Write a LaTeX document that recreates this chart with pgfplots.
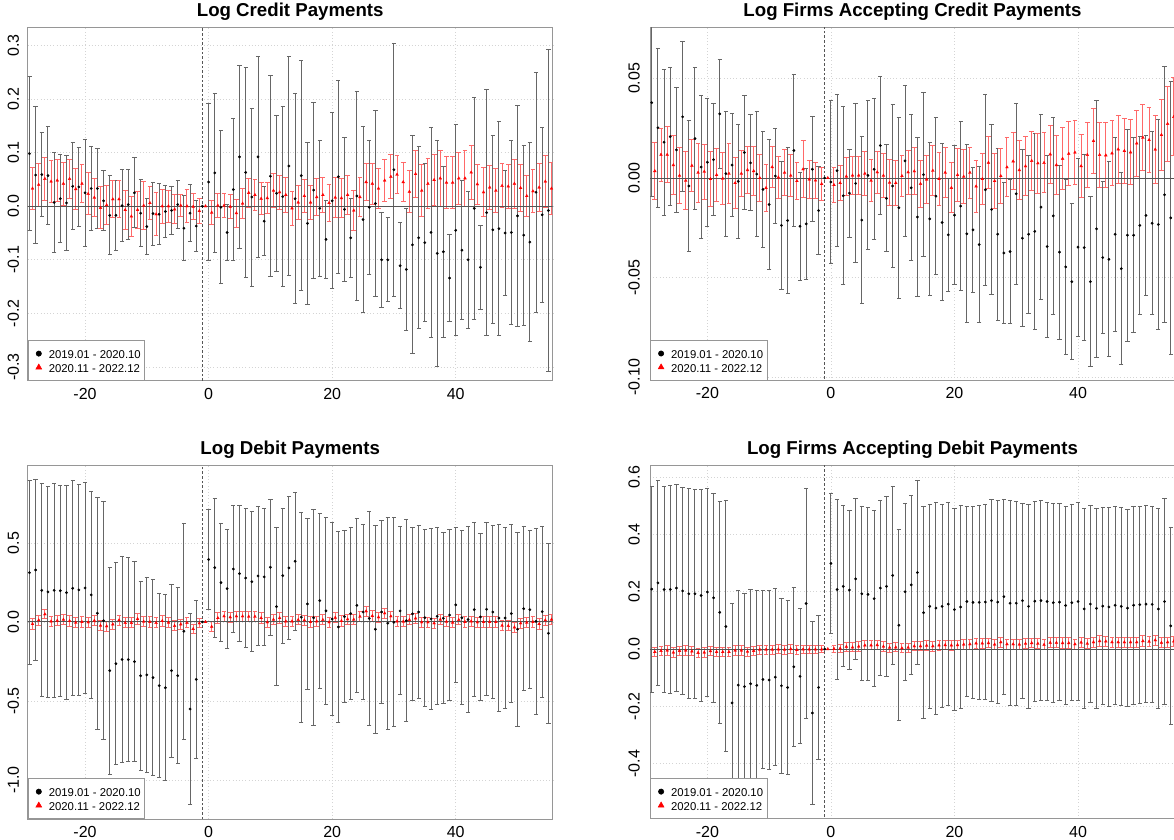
\documentclass[border=0pt]{standalone}
\usepackage{fontspec}
\setmainfont{Liberation Sans}
\usepackage{pgfplots}
\usepackage{pgfplotstable}
\pgfplotsset{compat=1.18}
\definecolor{barblack}{RGB}{102,102,102}
\definecolor{barred}{RGB}{255,105,105}
\definecolor{gridc}{RGB}{212,212,212}
\definecolor{boxc}{RGB}{150,150,150}
\definecolor{linec}{RGB}{85,85,85}
\newcommand\T[1]{\textnormal{#1}}
\newcommand\legblk{\path[draw=none] (0pt,0pt) (12.45pt,0pt); \path[draw=none] plot[mark=*,mark size=2pt,mark options={draw=black,fill=black,line width=0.4pt}] coordinates {(5.95pt,0pt)};}
\newcommand\legred{\path[draw=none] (0pt,0pt) (12.45pt,0pt); \path[draw=none] plot[mark=triangle*,mark size=2.5pt,mark options={draw=red,fill=red,line width=0.4pt}] coordinates {(5.95pt,0pt)};}

% ---------------- Log Credit Payments ----------------
\pgfplotstableread{
x y e
-29 0.098 0.144
-28 0.058 0.128
-27 0.059 0.078
-26 0.057 0.092
-25 0.007 0.094
-24 0.014 0.082
-23 0.006 0.088
-22 0.037 0.081
-21 0.036 0.074
-20 0.025 0.100
-19 0.033 0.079
-18 0.033 0.075
-17 0.010 0.056
-16 -0.017 0.074
-15 -0.017 0.065
-14 0.001 0.067
-13 0.003 0.065
-12 0.025 0.065
-11 -0.013 0.062
-10 -0.038 0.052
-9 -0.014 0.059
-8 -0.015 0.057
-7 -0.010 0.049
-6 -0.008 0.044
-5 0.003 0.045
-4 -0.041 0.061
-3 -0.013 0.053
-2 -0.037 0.048
-1 0 0
0 0.045 0.146
1 0.062 0.149
2 -0.002 0.143
3 -0.049 0.053
4 0.031 0.132
5 0.092 0.170
6 0.063 0.196
7 0.017 0.166
8 0.092 0.187
9 -0.028 0.064
10 0.056 0.188
11 0.024 0.146
12 0.018 0.168
13 0.075 0.205
14 0.014 0.196
15 0.057 0.214
16 -0.032 0.151
17 0.030 0.164
18 -0.004 0.127
19 -0.062 0.073
20 0.010 0.164
21 0.055 0.180
22 -0.006 0.134
23 -0.059 0.074
24 0.019 0.194
25 -0.025 0.173
26 -0.002 0.125
27 0.005 0.174
28 -0.100 0.089
29 -0.100 0.078
30 0.068 0.236
31 -0.111 0.080
32 -0.118 0.114
33 -0.072 0.203
34 -0.059 0.170
35 -0.068 0.147
36 -0.049 0.195
37 -0.088 0.211
38 -0.085 0.159
39 -0.134 0.081
40 -0.045 0.197
41 -0.082 0.130
42 -0.100 0.128
43 -0.004 0.207
44 -0.114 0.078
45 -0.012 0.230
46 -0.044 0.175
47 -0.042 0.200
48 -0.050 0.117
49 -0.049 0.172
50 -0.018 0.206
51 -0.054 0.168
52 -0.067 0.185
53 0.026 0.224
54 -0.016 0.163
55 -0.008 0.301
}\tlb
\pgfplotstableread{
x y e
-28.5 0.033 0.039
-27.5 0.040 0.040
-26.5 0.051 0.040
-25.5 0.046 0.040
-24.5 0.048 0.040
-23.5 0.042 0.040
-22.5 0.051 0.037
-21.5 0.032 0.038
-20.5 0.042 0.036
-19.5 0.023 0.039
-18.5 0.016 0.036
-17.5 -0.003 0.039
-16.5 0.002 0.036
-15.5 0.013 0.034
-14.5 0.013 0.034
-13.5 -0.007 0.037
-12.5 -0.019 0.037
-11.5 -0.007 0.034
-10.5 0.001 0.045
-9.5 0.006 0.030
-8.5 -0.015 0.040
-7.5 0.000 0.032
-6.5 0.000 0.030
-5.5 -0.006 0.027
-4.5 0.001 0.020
-3.5 0.000 0.031
-2.5 -0.001 0.024
-1.5 -0.009 0.023
-0.5 0 0
0.5 -0.012 0.022
1.5 0.001 0.023
2.5 0.001 0.023
3.5 -0.001 0.022
4.5 -0.013 0.026
5.5 0.005 0.028
6.5 0.025 0.027
7.5 0.021 0.029
8.5 0.014 0.030
9.5 0.015 0.029
10.5 0.029 0.032
11.5 0.026 0.032
12.5 0.021 0.033
13.5 -0.004 0.032
14.5 0.007 0.031
15.5 0.019 0.031
16.5 0.007 0.031
17.5 0.017 0.035
18.5 0.021 0.033
19.5 0.006 0.035
20.5 0.016 0.037
21.5 0.015 0.037
22.5 0.021 0.036
23.5 -0.008 0.037
24.5 0.017 0.036
25.5 0.045 0.035
26.5 0.042 0.038
27.5 0.033 0.038
28.5 0.048 0.040
29.5 0.055 0.041
30.5 0.059 0.036
31.5 0.045 0.036
32.5 0.027 0.039
33.5 0.060 0.043
34.5 0.029 0.048
35.5 0.042 0.047
36.5 0.049 0.048
37.5 0.052 0.052
38.5 0.044 0.049
39.5 0.044 0.049
40.5 0.052 0.048
41.5 0.052 0.052
42.5 0.063 0.050
43.5 0.041 0.037
44.5 0.026 0.046
45.5 0.035 0.041
46.5 0.029 0.041
47.5 0.038 0.041
48.5 0.037 0.041
49.5 0.042 0.046
50.5 0.034 0.044
51.5 0.019 0.039
52.5 0.028 0.040
53.5 0.035 0.044
54.5 0.046 0.048
55.5 0.033 0.049
}\tlr

% ---------------- Log Firms Accepting Credit Payments ----------------
\pgfplotstableread{
x y e
-29 0.0378 0.0470
-28 0.0252 0.0400
-27 0.0180 0.0366
-26 0.0208 0.0347
-25 0.0141 0.0314
-24 0.0307 0.0376
-23 -0.0040 0.0329
-22 0.0198 0.0355
-21 0.0055 0.0358
-20 0.0079 0.0321
-19 0.0092 0.0282
-18 0.0322 0.0273
-17 0.0022 0.0314
-16 0.0065 0.0258
-15 -0.0017 0.0288
-14 0.0128 0.0284
-13 0.0076 0.0241
-12 0.0020 0.0315
-11 -0.0057 0.0292
-10 -0.0133 0.0327
-9 0.0010 0.0239
-8 -0.0238 0.0323
-7 -0.0213 0.0366
-6 0.0138 0.0380
-5 -0.0242 0.0272
-4 -0.0230 0.0277
-3 0.0044 0.0263
-2 -0.0163 0.0222
-1 0 0
0 -0.0020 0.0411
1 0.0037 0.0383
2 -0.0089 0.0447
3 -0.0076 0.0221
4 -0.0027 0.0399
5 -0.0211 0.0417
6 0.0013 0.0374
7 0.0044 0.0355
8 0.0163 0.0347
9 -0.0102 0.0268
10 -0.0040 0.0408
11 -0.0149 0.0454
12 0.0086 0.0377
13 -0.0049 0.0367
14 -0.0196 0.0400
15 0.0017 0.0411
16 -0.0205 0.0384
17 -0.0091 0.0395
18 -0.0223 0.0394
19 -0.0285 0.0285
20 -0.0186 0.0350
21 -0.0141 0.0425
22 -0.0280 0.0446
23 -0.0260 0.0314
24 -0.0334 0.0393
25 -0.0059 0.0478
26 -0.0158 0.0425
27 -0.0282 0.0432
28 -0.0376 0.0353
29 -0.0369 0.0361
30 -0.0079 0.0453
31 -0.0302 0.0443
32 -0.0282 0.0396
33 -0.0268 0.0492
34 -0.0146 0.0464
35 -0.0344 0.0455
36 -0.0190 0.0494
37 -0.0372 0.0436
38 -0.0446 0.0440
39 -0.0520 0.0390
40 -0.0347 0.0447
41 -0.0349 0.0467
42 -0.0520 0.0428
43 -0.0255 0.0644
44 -0.0399 0.0382
45 -0.0408 0.0490
46 -0.0282 0.0487
47 -0.0455 0.0483
48 -0.0287 0.0532
49 -0.0287 0.0489
50 -0.0238 0.0446
51 -0.0188 0.0402
52 -0.0227 0.0458
53 -0.0233 0.0529
54 -0.0084 0.0642
55 -0.0200 0.0686
}\trb
\pgfplotstableread{
x y e
-28.5 0.0035 0.0141
-27.5 0.0117 0.0134
-26.5 0.0117 0.0140
-25.5 0.0065 0.0146
-24.5 0.0012 0.0141
-23.5 -0.0013 0.0147
-22.5 0.0062 0.0130
-21.5 0.0027 0.0148
-20.5 0.0032 0.0138
-19.5 -0.0005 0.0140
-18.5 0.0015 0.0131
-17.5 -0.0003 0.0131
-16.5 0.0022 0.0150
-15.5 -0.0025 0.0130
-14.5 0.0022 0.0117
-13.5 0.0040 0.0119
-12.5 0.0035 0.0122
-11.5 0.0000 0.0118
-10.5 -0.0050 0.0120
-9.5 0.0055 0.0102
-8.5 0.0003 0.0106
-7.5 0.0027 0.0115
-6.5 0.0012 0.0107
-5.5 -0.0015 0.0093
-4.5 0.0044 0.0144
-3.5 -0.0007 0.0097
-2.5 -0.0012 0.0090
-1.5 -0.0030 0.0083
-0.5 0 0
0.5 -0.0035 0.0088
1.5 -0.0025 0.0089
2.5 0.0008 0.0094
3.5 0.0013 0.0097
4.5 0.0013 0.0097
5.5 0.0022 0.0110
6.5 -0.0013 0.0107
7.5 0.0029 0.0105
8.5 0.0012 0.0110
9.5 -0.0023 0.0115
10.5 -0.0025 0.0112
11.5 0.0010 0.0101
12.5 0.0029 0.0110
13.5 0.0034 0.0117
14.5 -0.0029 0.0118
15.5 -0.0007 0.0119
16.5 0.0037 0.0125
17.5 -0.0005 0.0131
18.5 0.0027 0.0124
19.5 -0.0049 0.0126
20.5 0.0015 0.0134
21.5 0.0007 0.0134
22.5 0.0027 0.0128
23.5 -0.0042 0.0130
24.5 -0.0005 0.0130
25.5 0.0077 0.0132
26.5 -0.0015 0.0138
27.5 0.0010 0.0139
28.5 0.0054 0.0147
29.5 0.0084 0.0143
30.5 0.0040 0.0148
31.5 0.0059 0.0148
32.5 0.0086 0.0147
33.5 0.0074 0.0150
34.5 0.0076 0.0150
35.5 0.0119 0.0147
36.5 0.0065 0.0149
37.5 0.0097 0.0156
38.5 0.0122 0.0160
39.5 0.0128 0.0161
40.5 0.0060 0.0159
41.5 0.0116 0.0163
42.5 0.0186 0.0164
43.5 0.0116 0.0164
44.5 0.0114 0.0164
45.5 0.0124 0.0164
46.5 0.0144 0.0172
47.5 0.0136 0.0163
48.5 0.0129 0.0164
49.5 0.0174 0.0165
50.5 0.0203 0.0167
51.5 0.0191 0.0164
52.5 0.0143 0.0169
53.5 0.0216 0.0178
54.5 0.0272 0.0188
55.5 0.0307 0.0196
}\trr

% ---------------- Log Debit Payments ----------------
\pgfplotstableread{
x y e
-29 0.312 0.583
-28 0.329 0.574
-27 0.200 0.674
-26 0.190 0.669
-25 0.200 0.677
-24 0.198 0.668
-23 0.186 0.677
-22 0.213 0.681
-21 0.203 0.669
-20 0.215 0.669
-19 0.171 0.656
-18 0.055 0.734
-17 0.008 0.754
-16 -0.308 0.655
-15 -0.264 0.640
-14 -0.238 0.654
-13 -0.238 0.647
-12 -0.251 0.634
-11 -0.340 0.597
-10 -0.335 0.615
-9 -0.352 0.618
-8 -0.403 0.584
-7 -0.416 0.590
-6 -0.308 0.548
-5 -0.340 0.557
-4 -0.059 0.683
-3 -0.551 0.605
-2 -0.363 0.501
-1 0 0
0 0.395 0.314
1 0.344 0.440
2 0.249 0.371
3 0.211 0.377
4 0.335 0.401
5 0.306 0.431
6 0.278 0.442
7 0.255 0.445
8 0.291 0.442
9 0.285 0.431
10 0.346 0.431
11 0.097 0.498
12 0.293 0.428
13 0.342 0.450
14 0.384 0.437
15 0.030 0.665
16 0.114 0.543
17 0.027 0.682
18 0.135 0.554
19 0.070 0.593
20 0.019 0.613
21 -0.032 0.602
22 0.034 0.542
23 0.053 0.543
24 0.105 0.552
25 0.063 0.551
26 0.023 0.677
27 -0.046 0.658
28 0.063 0.577
29 -0.008 0.672
30 -0.002 0.661
31 0.070 0.532
32 0.008 0.638
33 0.051 0.547
34 0.063 0.546
35 0.027 0.561
36 0.019 0.571
37 0.036 0.561
38 0.023 0.542
39 0.044 0.544
40 0.108 0.492
41 0.027 0.550
42 0.015 0.590
43 0.078 0.552
44 0.032 0.530
45 0.080 0.547
46 0.063 0.548
47 0.025 0.590
48 0.025 0.570
49 0.053 0.563
50 -0.046 0.613
51 0.084 0.520
52 0.078 0.498
53 0.004 0.588
54 0.065 0.541
55 -0.072 0.570
}\blb
\pgfplotstableread{
x y e
-28.5 -0.013 0.032
-27.5 0.011 0.032
-26.5 0.049 0.030
-25.5 0.004 0.032
-24.5 0.008 0.032
-23.5 0.015 0.032
-22.5 0.006 0.032
-21.5 -0.004 0.032
-20.5 0.000 0.032
-19.5 -0.002 0.032
-18.5 0.008 0.032
-17.5 -0.023 0.032
-16.5 -0.027 0.032
-15.5 -0.015 0.032
-14.5 0.011 0.032
-13.5 -0.006 0.032
-12.5 -0.006 0.032
-11.5 0.019 0.032
-10.5 0.002 0.032
-9.5 0.000 0.032
-8.5 -0.006 0.032
-7.5 0.006 0.032
-6.5 -0.004 0.032
-5.5 -0.025 0.032
-4.5 -0.015 0.032
-3.5 -0.006 0.032
-2.5 -0.044 0.030
-1.5 -0.008 0.030
-0.5 0 0
0.5 -0.030 0.030
1.5 0.025 0.032
2.5 0.036 0.032
3.5 0.030 0.032
4.5 0.036 0.032
5.5 0.036 0.032
6.5 0.034 0.032
7.5 0.034 0.032
8.5 0.025 0.032
9.5 -0.002 0.032
10.5 0.015 0.032
11.5 0.025 0.032
12.5 0.004 0.032
13.5 0.004 0.032
14.5 0.013 0.032
15.5 0.011 0.032
16.5 0.000 0.032
17.5 0.004 0.032
18.5 0.013 0.032
19.5 -0.002 0.032
20.5 0.027 0.032
21.5 0.006 0.032
22.5 0.017 0.032
23.5 0.015 0.032
24.5 0.034 0.032
25.5 0.068 0.032
26.5 0.038 0.032
27.5 0.030 0.032
28.5 0.055 0.032
29.5 0.036 0.032
30.5 0.004 0.032
31.5 0.002 0.032
32.5 0.013 0.032
33.5 0.023 0.032
34.5 -0.002 0.032
35.5 -0.002 0.032
36.5 -0.008 0.032
37.5 0.015 0.032
38.5 0.002 0.032
39.5 -0.004 0.032
40.5 0.013 0.032
41.5 0.000 0.032
42.5 0.004 0.032
43.5 -0.002 0.032
44.5 0.000 0.032
45.5 0.000 0.032
46.5 0.000 0.032
47.5 -0.023 0.032
48.5 -0.025 0.032
49.5 -0.034 0.032
50.5 -0.008 0.032
51.5 -0.004 0.032
52.5 0.000 0.032
53.5 -0.013 0.032
54.5 0.011 0.032
55.5 0.015 0.032
}\blr

% ---------------- Log Firms Accepting Debit Payments ----------------
\pgfplotstableread{
x y e
-29 0.209 0.360
-28 0.231 0.357
-27 0.208 0.359
-26 0.208 0.363
-25 0.213 0.360
-24 0.203 0.361
-23 0.193 0.366
-22 0.193 0.365
-21 0.187 0.369
-20 0.199 0.363
-19 0.179 0.365
-18 0.128 0.388
-17 0.079 0.438
-16 -0.188 0.348
-15 -0.126 0.330
-14 -0.131 0.326
-13 -0.121 0.329
-12 -0.127 0.333
-11 -0.106 0.310
-10 -0.108 0.311
-9 -0.098 0.310
-8 -0.128 0.306
-7 -0.134 0.305
-6 -0.062 0.278
-5 -0.095 0.236
-4 0.159 0.400
-3 -0.223 0.318
-2 -0.134 0.250
-1 0 0
0 0.299 0.243
1 0.208 0.314
2 0.219 0.281
3 0.206 0.278
4 0.245 0.281
5 0.193 0.303
6 0.191 0.302
7 0.176 0.307
8 0.213 0.305
9 0.219 0.313
10 0.257 0.312
11 0.083 0.334
12 0.200 0.309
13 0.224 0.313
14 0.267 0.320
15 0.127 0.371
16 0.149 0.356
17 0.143 0.370
18 0.149 0.354
19 0.157 0.353
20 0.138 0.354
21 0.147 0.355
22 0.166 0.333
23 0.163 0.335
24 0.163 0.339
25 0.164 0.341
26 0.169 0.353
27 0.164 0.353
28 0.183 0.340
29 0.160 0.357
30 0.160 0.356
31 0.169 0.340
32 0.149 0.357
33 0.167 0.349
34 0.169 0.348
35 0.166 0.347
36 0.162 0.347
37 0.164 0.345
38 0.152 0.347
39 0.162 0.343
40 0.166 0.345
41 0.140 0.349
42 0.157 0.343
43 0.142 0.348
44 0.150 0.345
45 0.147 0.347
46 0.153 0.345
47 0.149 0.345
48 0.143 0.345
49 0.153 0.345
50 0.155 0.344
51 0.157 0.343
52 0.156 0.343
53 0.140 0.349
54 0.166 0.361
55 0.081 0.345
}\brb
\pgfplotstableread{
x y e
-28.5 -0.010 0.016
-27.5 -0.006 0.016
-26.5 -0.005 0.016
-25.5 -0.012 0.016
-24.5 -0.006 0.016
-23.5 -0.005 0.016
-22.5 -0.008 0.016
-21.5 -0.013 0.016
-20.5 -0.012 0.016
-19.5 -0.007 0.016
-18.5 -0.010 0.016
-17.5 -0.010 0.016
-16.5 -0.010 0.016
-15.5 -0.005 0.016
-14.5 -0.005 0.016
-13.5 -0.009 0.016
-12.5 -0.006 0.016
-11.5 -0.002 0.016
-10.5 -0.002 0.016
-9.5 -0.002 0.016
-8.5 -0.001 0.016
-7.5 -0.002 0.016
-6.5 0.000 0.016
-5.5 -0.003 0.016
-4.5 -0.001 0.015
-3.5 -0.001 0.015
-2.5 -0.001 0.014
-1.5 -0.001 0.012
-0.5 0 0
0.5 0.001 0.012
1.5 0.002 0.014
2.5 0.008 0.015
3.5 0.006 0.016
4.5 0.009 0.016
5.5 0.013 0.016
6.5 0.013 0.016
7.5 0.014 0.016
8.5 0.009 0.016
9.5 0.005 0.016
10.5 0.006 0.016
11.5 0.003 0.016
12.5 0.005 0.016
13.5 0.010 0.016
14.5 0.010 0.016
15.5 0.012 0.017
16.5 0.010 0.017
17.5 0.013 0.017
18.5 0.014 0.017
19.5 0.013 0.017
20.5 0.014 0.017
21.5 0.016 0.017
22.5 0.017 0.017
23.5 0.020 0.017
24.5 0.020 0.017
25.5 0.021 0.017
26.5 0.016 0.017
27.5 0.024 0.017
28.5 0.017 0.017
29.5 0.017 0.017
30.5 0.016 0.017
31.5 0.019 0.017
32.5 0.021 0.017
33.5 0.019 0.017
34.5 0.015 0.017
35.5 0.022 0.018
36.5 0.022 0.018
37.5 0.021 0.018
38.5 0.021 0.018
39.5 0.017 0.018
40.5 0.023 0.018
41.5 0.019 0.018
42.5 0.024 0.018
43.5 0.028 0.018
44.5 0.027 0.018
45.5 0.024 0.018
46.5 0.024 0.018
47.5 0.024 0.018
48.5 0.024 0.018
49.5 0.024 0.018
50.5 0.028 0.018
51.5 0.026 0.018
52.5 0.031 0.018
53.5 0.022 0.018
54.5 0.024 0.018
55.5 0.027 0.018
}\brr

\pgfplotsset{
  panel/.style={
    scale only axis, width=393.75pt, height=264.98pt, anchor=south west,
    xmin=-29.28, xmax=55.7,
    xtick={-20,0,20,40},
    xticklabels={\T{-20},\T{0},\T{20},\T{40}},
    major tick length=0pt,
    grid=major, grid style={dotted, color=gridc, line width=0.6pt},
    axis line style={draw=boxc, line width=0.75pt},
    tick label style={font=\fontsize{12}{14}\selectfont, inner sep=0pt},
    yticklabel style={rotate=90, anchor=south},
    xticklabel style={anchor=north},
    xticklabel shift=5pt, yticklabel shift=6.3pt,
    every axis title/.style={at={(0.5,1)}, anchor=base, yshift=8.25pt, inner sep=0pt,
      font=\bfseries\fontsize{14}{16}\selectfont},
    legend style={at={(0,0)}, anchor=south west, draw=boxc, line width=0.75pt, fill=white,
      font=\fontsize{8.5}{10}\selectfont, inner xsep=2pt, inner ysep=5.25pt, row sep=1.1pt,
      nodes={inner sep=1pt, text height=7.2pt, text depth=0pt}, cells={anchor=west}},
  },
  blkpts/.style={only marks, mark=*, mark size=0.95pt, color=black,
    mark options={fill=black, draw=black, line width=0.2pt},
    error bars/.cd, y dir=both, y explicit,
    error bar style={draw=barblack, line width=0.75pt},
    error mark options={draw=barblack, line width=0.75pt, mark size=1.6pt, rotate=90}},
  redpts/.style={only marks, mark=triangle*, mark size=1.25pt, color=red,
    mark options={fill=red, draw=red, line width=0.2pt},
    error bars/.cd, y dir=both, y explicit,
    error bar style={draw=barred, line width=0.75pt},
    error mark options={draw=barred, line width=0.75pt, mark size=1.8pt, rotate=90}},
}

\newcommand\panelcontent[2]{%
  \addplot[forget plot, blkpts] table[x index=0, y index=1, y error index=2] {#1};
  \addplot[forget plot, redpts] table[x index=0, y index=1, y error index=2] {#2};
  \addplot[forget plot, linec, line width=0.75pt] coordinates {(-40,0) (70,0)};
  \addplot[forget plot, linec, line width=0.5pt, dash pattern=on 2pt off 1.5pt] coordinates {(-1,-5) (-1,5)};
  \addlegendimage{legend image code/.code={\legblk}}
  \addlegendentry{2019.01 - 2020.10}
  \addlegendimage{legend image code/.code={\legred}}
  \addlegendentry{2020.11 - 2022.12}
}

\begin{document}
\begin{tikzpicture}
\path[use as bounding box] (0pt,0pt) rectangle (880.5pt,-629.25pt);
\clip (0pt,0pt) rectangle (880.5pt,-629.25pt);

\begin{axis}[panel, at={(20.78pt,-285.75pt)},
  title={Log Credit Payments},
  ymin=-0.326, ymax=0.333,
  ytick={-0.3,-0.2,-0.1,0,0.1,0.2,0.3},
  yticklabels={\T{-0.3},\T{-0.2},\T{-0.1},\T{0.0},\T{0.1},\T{0.2},\T{0.3}}]
\panelcontent{\tlb}{\tlr}
\end{axis}

\begin{axis}[panel, at={(487.5pt,-285.75pt)}, yticklabel shift=7.5pt,
  title={Log Firms Accepting Credit Payments},
  ymin=-0.1018, ymax=0.0755,
  ytick={-0.1,-0.05,0,0.05},
  yticklabels={\T{-0.10},\T{-0.05},\T{0.00},\T{0.05}}]
\panelcontent{\trb}{\trr}
\end{axis}

\begin{axis}[panel, at={(20.78pt,-614.25pt)},
  title={Log Debit Payments},
  ymin=-1.247, ymax=0.989,
  ytick={-1,-0.5,0,0.5},
  yticklabels={\T{-1.0},\T{-0.5},\T{0.0},\T{0.5}}]
\panelcontent{\blb}{\blr}
\end{axis}

\begin{axis}[panel, at={(487.5pt,-614.25pt)}, yticklabel shift=7.5pt,
  title={Log Firms Accepting Debit Payments},
  ymin=-0.593, ymax=0.640,
  ytick={-0.4,-0.2,0,0.2,0.4,0.6},
  yticklabels={\T{-0.4},\T{-0.2},\T{0.0},\T{0.2},\T{0.4},\T{0.6}}]
\panelcontent{\brb}{\brr}
\end{axis}
\end{tikzpicture}
\end{document}
